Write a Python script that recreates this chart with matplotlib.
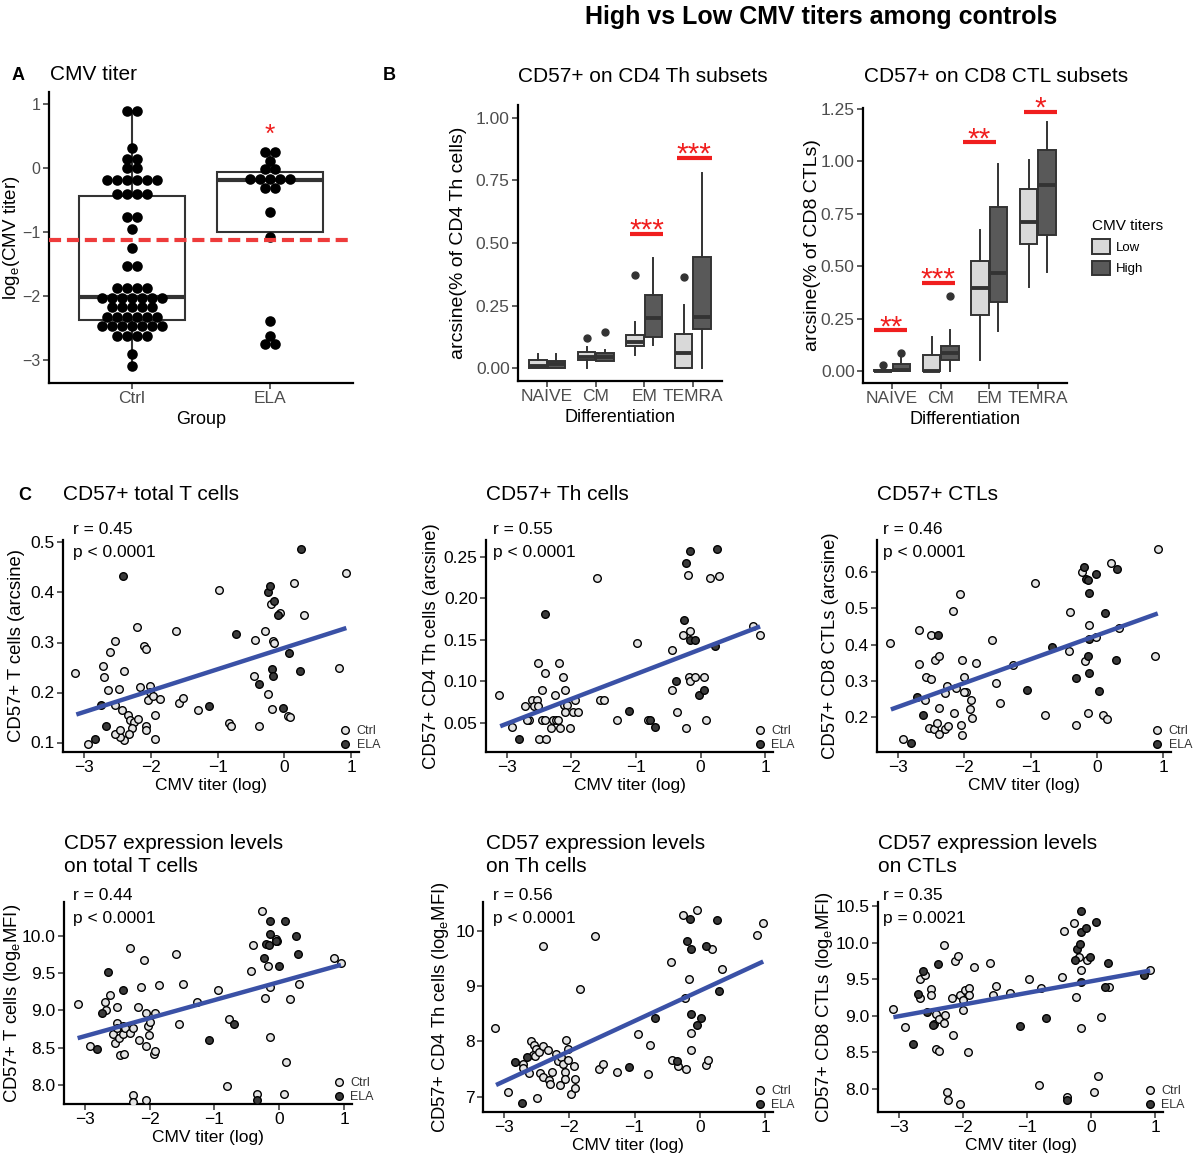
import numpy as np
import matplotlib.pyplot as plt
from matplotlib.patches import Patch
from matplotlib.lines import Line2D

plt.rcParams['font.family'] = ['Liberation Sans', 'DejaVu Sans']
plt.rcParams['mathtext.fontset'] = 'custom'
plt.rcParams['mathtext.rm'] = 'Liberation Sans'
plt.rcParams['axes.unicode_minus'] = True

W, H = 1197, 1156
RED = '#f01e1e'
GREY_TXT = '#4d4d4d'
LOW_FILL = '#d9d9d9'
HIGH_FILL = '#595959'
CTRL_FILL = '#e3e3e3'
ELA_FILL = '#3a3a3a'
LINE_BLUE = '#3a51a6'

# ---------------- panel A: CMV titer (dotplot + box) ----------------
groups = ['Ctrl', 'ELA']
ctrl_titer_levels = [0.88, 0.31, 0.13, 0.0, -0.19, -0.41, -0.77, -0.95, -1.26, -1.53,
                     -1.88, -2.03, -2.17, -2.33, -2.47, -2.63, -2.90, -3.09]
ctrl_titer_counts = [2, 1, 2, 2, 6, 4, 2, 1, 1, 2, 4, 7, 5, 6, 7, 4, 1, 1]
ela_titer_levels = [0.25, 0.11, -0.02, -0.18, -0.31, -0.69, -1.08, -2.39, -2.63, -2.75]
ela_titer_counts = [2, 1, 2, 5, 2, 1, 1, 1, 1, 2]
titer_q1 = [-2.37, -1.00]
titer_med = [-2.02, -0.19]
titer_q3 = [-0.44, -0.07]
titer_whislo = [-3.09, -1.00]
titer_whishi = [0.88, 0.25]
titer_cutoff = -1.13

# ---------------- panel B: subsets boxplots ----------------
subsets = ['NAIVE', 'CM', 'EM', 'TEMRA']
cd4_low = dict(q1=[0, 0.035, 0.088, 0], med=[0.01, 0.044, 0.106, 0.06],
               q3=[0.035, 0.066, 0.134, 0.139], whislo=[0, 0, 0.053, 0],
               whishi=[0.057, 0.084, 0.186, 0.252], fliers=[[], [0.12], [0.372], [0.365]])
cd4_high = dict(q1=[0, 0.03, 0.124, 0.159], med=[0.018, 0.045, 0.203, 0.206],
                q3=[0.03, 0.06, 0.292, 0.445], whislo=[0, 0.03, 0.093, 0],
                whishi=[0.057, 0.073, 0.442, 0.777], fliers=[[], [0.146], [], []])
cd8_low = dict(q1=[0, 0, 0.268, 0.605], med=[0, 0, 0.397, 0.71],
               q3=[0.005, 0.076, 0.524, 0.866], whislo=[0, 0, 0.054, 0.401],
               whishi=[0.005, 0.162, 0.672, 1.003], fliers=[[0.03], [], [], []])
cd8_high = dict(q1=[0, 0.054, 0.331, 0.648], med=[0.005, 0.088, 0.465, 0.884],
                q3=[0.032, 0.118, 0.783, 1.054], whislo=[0, 0, 0.191, 0.473],
                whishi=[0.08, 0.197, 0.987, 1.188], fliers=[[0.088], [0.358], [], []])
cd4_sig_idx = [2, 3]
cd4_sig_y = [0.537, 0.84]
cd4_sig_x0 = [-0.30, -0.33]
cd4_sig_x1 = [0.39, 0.39]
cd4_sig_lab = ['***', '***']
cd8_sig_idx = [0, 1, 2, 3]
cd8_sig_y = [0.194, 0.42, 1.09, 1.234]
cd8_sig_x0 = [-0.37, -0.39, -0.55, -0.28]
cd8_sig_x1 = [0.31, 0.29, 0.14, 0.39]
cd8_sig_lab = ['**', '***', '**', '*']

# ---------------- panel C/D: scatter data ----------------
c1_ctrl_x = [-3.14, -2.95, -2.72, -2.70, -2.61, -2.54, -2.64, -2.48, -2.41, -2.21,
             -2.11, -2.07, -2.16, -2.02, -2.01, -2.04, -1.97, -1.87, -1.94, -2.08,
             -2.08, -1.94, -2.54, -2.43, -2.34, -2.31, -2.26, -2.19, -2.28, -2.33,
             -2.41, -2.47, -2.54, -2.47, -1.63, -1.58, -1.52, -1.29, -0.98, -0.83,
             -0.80, -0.46, -0.44, -0.38, -0.29, -0.24, -0.20, -0.17, -0.16, -0.18,
             -0.07, 0.05, 0.09, 0.15, 0.29, 0.82, 0.93]
c1_ctrl_y = [0.240, 0.098, 0.253, 0.231, 0.281, 0.303, 0.206, 0.208, 0.243, 0.331,
             0.293, 0.287, 0.211, 0.213, 0.201, 0.185, 0.193, 0.188, 0.155, 0.133,
             0.126, 0.108, 0.175, 0.165, 0.155, 0.146, 0.141, 0.148, 0.130, 0.118,
             0.105, 0.111, 0.118, 0.125, 0.323, 0.180, 0.190, 0.165, 0.405, 0.139,
             0.133, 0.233, 0.306, 0.133, 0.323, 0.198, 0.377, 0.303, 0.300, 0.167,
             0.360, 0.154, 0.151, 0.420, 0.355, 0.250, 0.439]
c1_ela_x = [-2.42, -2.84, -2.67, -2.75, -0.73, -1.13, -0.38, -0.24, -0.22, -0.16,
            -0.19, -0.17, -0.09, 0.07, -0.02, 0.23, 0.25]
c1_ela_y = [0.433, 0.108, 0.133, 0.175, 0.317, 0.173, 0.217, 0.401, 0.413, 0.383,
            0.248, 0.233, 0.355, 0.279, 0.170, 0.243, 0.486]
c1_fit_x = [-3.12, 0.93]
c1_fit_y = [0.156, 0.329]

c2_ctrl_x = [-3.12, -2.92, -2.71, -2.61, -2.53, -2.58, -2.51, -2.65, -2.69, -2.52,
             -2.40, -2.46, -2.46, -2.40, -2.50, -2.39, -2.31, -2.26, -2.28, -2.23,
             -2.19, -2.21, -2.18, -2.13, -2.10, -2.11, -2.06, -2.10, -2.02, -1.97,
             -1.94, -1.89, -1.60, -1.56, -1.50, -1.29, -0.98, -0.82, -0.45, -0.44,
             -0.37, -0.28, -0.23, -0.20, -0.16, -0.18, -0.16, -0.08, 0.05, 0.09,
             0.14, 0.28, 0.81, 0.92]
c2_ctrl_y = [0.084, 0.045, 0.070, 0.077, 0.077, 0.070, 0.070, 0.054, 0.054, 0.122,
             0.110, 0.089, 0.054, 0.054, 0.031, 0.031, 0.044, 0.084, 0.054, 0.054,
             0.122, 0.054, 0.044, 0.105, 0.089, 0.071, 0.071, 0.063, 0.044, 0.063,
             0.077, 0.063, 0.224, 0.077, 0.077, 0.054, 0.146, 0.054, 0.138, 0.089,
             0.063, 0.156, 0.044, 0.228, 0.160, 0.105, 0.100, 0.105, 0.105, 0.054,
             0.224, 0.227, 0.166, 0.156]
c2_ela_x = [-2.81, -2.41, -1.11, -0.78, -0.71, -0.38, -0.25, -0.22, -0.16, -0.17,
            -0.08, -0.02, 0.06, 0.23, 0.25]
c2_ela_y = [0.031, 0.181, 0.064, 0.054, 0.045, 0.100, 0.174, 0.242, 0.257, 0.150,
            0.150, 0.084, 0.089, 0.142, 0.259]
c2_fit_x = [-3.10, 0.92]
c2_fit_y = [0.046, 0.166]

c3_ctrl_x = [-3.12, -2.92, -2.69, -2.68, -2.58, -2.50, -2.60, -2.51, -2.45, -2.38,
             -2.39, -2.53, -2.46, -2.41, -2.38, -2.30, -2.25, -2.27, -2.30, -2.16,
             -2.17, -2.07, -2.12, -2.03, -2.05, -2.04, -2.01, -1.98, -2.01, -1.90,
             -1.92, -1.89, -1.83, -1.58, -1.53, -1.47, -1.26, -0.94, -0.78, -0.40,
             -0.42, -0.32, -0.23, -0.18, -0.12, -0.13, -0.02, 0.10, 0.15, 0.21,
             0.34, 0.88, 0.93]
c3_ctrl_y = [0.404, 0.140, 0.440, 0.346, 0.310, 0.305, 0.248, 0.428, 0.358, 0.369,
             0.227, 0.170, 0.167, 0.186, 0.154, 0.167, 0.176, 0.287, 0.268, 0.211,
             0.493, 0.539, 0.280, 0.358, 0.179, 0.151, 0.312, 0.269, 0.269, 0.248,
             0.223, 0.199, 0.349, 0.412, 0.295, 0.239, 0.344, 0.571, 0.208, 0.489,
             0.384, 0.179, 0.599, 0.356, 0.454, 0.211, 0.422, 0.206, 0.195, 0.626,
             0.445, 0.370, 0.663]
c3_ela_x = [-2.81, -2.72, -2.63, -2.40, -1.06, -0.67, -0.32, -0.20, -0.16, -0.14,
            -0.12, -0.14, -0.12, -0.12, -0.02, 0.04, 0.13, 0.29, 0.31]
c3_ela_y = [0.130, 0.255, 0.206, 0.427, 0.275, 0.393, 0.309, 0.615, 0.581, 0.578,
            0.543, 0.370, 0.321, 0.415, 0.594, 0.272, 0.488, 0.358, 0.607]
c3_fit_x = [-3.11, 0.92]
c3_fit_y = [0.222, 0.486]

d1_ctrl_x = [-3.11, -2.92, -2.69, -2.68, -2.61, -2.51, -2.51, -2.57, -2.53, -2.47,
             -2.50, -2.41, -2.41, -2.38, -2.31, -2.46, -2.39, -2.30, -2.26, -2.25,
             -2.25, -2.18, -2.17, -2.14, -2.09, -2.05, -2.05, -2.06, -2.02, -2.01,
             -1.99, -1.91, -1.94, -1.91, -1.85, -1.60, -1.54, -1.49, -1.27, -0.95,
             -0.80, -0.78, -0.44, -0.41, -0.34, -0.26, -0.22, -0.18, -0.15, -0.15,
             -0.05, -0.04, 0.07, 0.11, 0.17, 0.31, 0.84, 0.95]
d1_ctrl_y = [9.09, 8.52, 9.12, 9.00, 9.21, 9.05, 8.83, 8.68, 8.56, 8.63,
             8.76, 8.79, 8.68, 8.76, 9.84, 8.40, 8.42, 8.70, 8.76, 7.87,
             7.78, 9.04, 8.61, 9.32, 9.68, 8.96, 7.80, 8.52, 8.79, 8.67,
             8.85, 8.97, 8.42, 8.46, 9.34, 9.75, 8.82, 9.35, 9.12, 9.27,
             7.99, 8.88, 9.53, 9.88, 7.89, 10.33, 9.17, 9.60, 9.32, 8.65,
             9.96, 9.93, 7.89, 8.31, 9.16, 9.36, 9.70, 9.64]
d1_ela_x = [-2.81, -2.73, -2.64, -2.41, -1.09, -0.70, -0.34, -0.23, -0.20, -0.16,
            -0.15, -0.15, 0.00, 0.09, 0.25, 0.28, -0.05]
d1_ela_y = [8.49, 8.96, 9.52, 9.27, 8.61, 8.82, 7.80, 9.70, 9.89, 9.87,
            10.19, 10.02, 9.60, 10.20, 10.00, 9.76, 9.93]
d1_fit_x = [-3.11, 0.95]
d1_fit_y = [8.63, 9.61]

d2_ctrl_x = [-3.14, -2.94, -2.59, -2.54, -2.51, -2.56, -2.71, -2.70, -2.62, -2.52,
             -2.46, -2.40, -2.40, -2.45, -2.40, -2.50, -2.32, -2.31, -2.29, -2.26,
             -2.20, -2.17, -2.12, -2.14, -2.09, -2.06, -2.05, -2.02, -2.02, -2.06,
             -1.98, -1.93, -1.91, -1.91, -1.84, -1.60, -1.55, -1.49, -1.27, -0.95,
             -0.77, -0.79, -0.44, -0.42, -0.34, -0.26, -0.21, -0.17, -0.22, -0.14,
             -0.14, -0.04, 0.09, 0.13, 0.19, 0.34, 0.87, 0.97]
d2_ctrl_y = [8.25, 7.09, 8.01, 7.94, 7.87, 7.76, 7.59, 7.52, 7.42, 7.73,
             7.80, 7.91, 9.74, 7.42, 7.36, 6.98, 7.85, 7.30, 7.22, 7.44,
             7.78, 7.65, 7.71, 7.21, 7.59, 7.45, 8.03, 7.87, 7.67, 7.32,
             7.04, 7.56, 7.32, 7.15, 8.95, 9.91, 7.50, 7.59, 7.45, 8.14,
             7.93, 7.41, 9.45, 7.67, 7.56, 10.30, 7.50, 9.13, 8.79, 8.16,
             7.84, 10.38, 7.58, 7.67, 9.67, 9.32, 9.94, 10.15]
d2_ela_x = [-2.83, -2.65, -2.73, -1.08, -0.69, -0.35, -0.19, -0.15, -0.14, -0.14,
            -0.04, 0.02, 0.10, 0.26, 0.29]
d2_ela_y = [7.62, 7.71, 6.88, 7.53, 8.42, 7.64, 9.83, 10.22, 9.68, 8.50,
            8.30, 8.42, 9.73, 10.21, 8.91]
d2_fit_x = [-3.12, 0.97]
d2_fit_y = [7.21, 9.45]

d3_ctrl_x = [-3.09, -2.90, -2.67, -2.66, -2.59, -2.49, -2.50, -2.41, -2.45, -2.37,
             -2.27, -2.29, -2.41, -2.37, -2.29, -2.25, -2.23, -2.17, -2.15, -2.12,
             -2.07, -2.04, -2.04, -2.00, -2.00, -1.97, -1.90, -1.90, -1.92, -1.83,
             -1.58, -1.53, -1.48, -1.26, -0.97, -0.78, -0.81, -0.45, -0.43, -0.37,
             -0.27, -0.23, -0.16, -0.19, -0.15, -0.07, 0.05, 0.10, 0.15, 0.28,
             0.92]
d3_ctrl_y = [9.09, 8.84, 9.24, 9.51, 9.56, 9.37, 9.28, 9.02, 8.89, 8.96,
             9.01, 8.90, 8.55, 8.51, 9.97, 7.96, 7.85, 9.25, 8.73, 9.75,
             9.82, 7.79, 9.28, 9.22, 9.08, 9.35, 9.38, 9.29, 8.50, 9.67,
             9.73, 9.28, 9.41, 9.31, 9.51, 9.38, 8.05, 9.53, 10.16, 7.89,
             10.27, 9.26, 9.63, 9.81, 8.83, 9.77, 7.95, 8.18, 8.98, 9.39,
             9.63]
d3_ela_x = [-2.78, -2.70, -2.62, -2.56, -2.47, -2.39, -1.10, -0.70, -0.37, -0.25,
            -0.22, -0.18, -0.15, -0.15, -0.15, -0.08, -0.02, 0.07, 0.26, 0.22, 0.82]
d3_ela_y = [8.61, 9.30, 9.61, 9.05, 8.88, 9.71, 8.86, 8.97, 7.84, 9.76,
            9.91, 9.98, 10.15, 10.44, 9.46, 10.21, 9.80, 10.29, 9.73, 9.39, 9.56]
d3_fit_x = [-3.08, 0.92]
d3_fit_y = [8.98, 9.62]


def rect(l, r, t, b):
    return [l / W, 1 - b / H, (r - l) / W, (b - t) / H]


def ftext(x, y, s, **kw):
    fig.text(x / W, 1 - y / H, s, **kw)


def place_ylabel(ax, r, x_center_px):
    # label anchor is its right edge (rotated text bottom)
    left_px = r[0] * W
    width_px = r[2] * W
    ax.yaxis.set_label_coords((x_center_px + 9 - left_px) / width_px, 0.5)


def style_axes(ax, tick_color, size):
    for side in ['top', 'right']:
        ax.spines[side].set_visible(False)
    for side in ['left', 'bottom']:
        ax.spines[side].set_linewidth(1.6)
        ax.spines[side].set_color('black')
    ax.tick_params(length=4, width=1.1, color='#333333', labelsize=size,
                   labelcolor=tick_color, pad=2)


def box_stats(d):
    out = []
    for i in range(len(d['med'])):
        out.append(dict(q1=d['q1'][i], med=d['med'][i], q3=d['q3'][i],
                        whislo=d['whislo'][i], whishi=d['whishi'][i],
                        fliers=d['fliers'][i] if 'fliers' in d else []))
    return out


fig = plt.figure(figsize=(W / 100, H / 100), dpi=100)

# ---- A ----
rA = rect(49, 353, 92, 383)
axA = fig.add_axes(rA)
style_axes(axA, GREY_TXT, 11.5)
axA.tick_params(axis='x', labelsize=12.5)
statsA = box_stats(dict(q1=titer_q1, med=titer_med, q3=titer_q3,
                        whislo=titer_whislo, whishi=titer_whishi))
axA.bxp(statsA, positions=[1, 2], widths=0.77, patch_artist=True, showcaps=False,
        showfliers=False,
        boxprops=dict(facecolor='white', edgecolor='#333333', linewidth=1.5),
        medianprops=dict(color='#333333', linewidth=3),
        whiskerprops=dict(color='#333333', linewidth=1.5))
dx = 0.072
for pos, levels, counts in [(1, ctrl_titer_levels, ctrl_titer_counts),
                            (2, ela_titer_levels, ela_titer_counts)]:
    xs, ys = [], []
    for v, n in zip(levels, counts):
        offs = (np.arange(n) - (n - 1) / 2) * dx
        xs.extend(pos + offs)
        ys.extend([v] * n)
    axA.scatter(xs, ys, s=58, color='black', zorder=3, linewidths=0)
axA.axhline(titer_cutoff, color='#ee3b3b', lw=3, ls=(0, (2.9, 1.4)), zorder=4)
axA.text(2, 0.40, '*', color=RED, ha='center', va='baseline', fontsize=19)
axA.set_xlim(0.4, 2.6)
axA.set_ylim(-3.36, 1.18)
axA.set_yticks([-3, -2, -1, 0, 1])
axA.set_xticks([1, 2])
axA.set_xticklabels(groups)
axA.set_xlabel('Group', fontsize=13, labelpad=3)
axA.set_ylabel(r'log$_\mathrm{e}$(CMV titer)', fontsize=13.5)
place_ylabel(axA, rA, 13)

# ---- B ----
def draw_subset_panel(ax, low, high, sig_idx, sig_y, sig_x0, sig_x1, sig_lab):
    style_axes(ax, GREY_TXT, 12.5)
    pos = np.arange(1, len(subsets) + 1)
    for d, off, fc in [(low, -0.1875, LOW_FILL), (high, 0.1875, HIGH_FILL)]:
        ax.bxp(box_stats(d), positions=pos + off, widths=0.36, patch_artist=True,
               showcaps=False,
               boxprops=dict(facecolor=fc, edgecolor='#333333', linewidth=1.4),
               medianprops=dict(color='#333333', linewidth=2.8),
               whiskerprops=dict(color='#333333', linewidth=1.4),
               flierprops=dict(marker='o', markerfacecolor='#333333',
                               markeredgecolor='#333333', markersize=5))
    for i, y, a, b, lab in zip(sig_idx, sig_y, sig_x0, sig_x1, sig_lab):
        xc = pos[i]
        ax.plot([xc + a, xc + b], [y, y], color=RED, lw=3, solid_capstyle='butt',
                clip_on=False)
        ax.annotate(lab, ((xc + a + xc + b) / 2, y), xytext=(0, -3.5),
                    textcoords='offset points', ha='center', va='baseline',
                    color=RED, fontsize=21.5, annotation_clip=False)
    ax.set_xticks(pos)
    ax.set_xticklabels(subsets)
    ax.set_xlim(0.4, 4.6)
    ax.set_xlabel('Differentiation', fontsize=13, labelpad=3)


rB1 = rect(518, 722, 105, 381)
axB1 = fig.add_axes(rB1)
draw_subset_panel(axB1, cd4_low, cd4_high, cd4_sig_idx, cd4_sig_y, cd4_sig_x0,
                  cd4_sig_x1, cd4_sig_lab)
axB1.set_ylim(-0.05, 1.05)
axB1.set_yticks([0, 0.25, 0.5, 0.75, 1.0])
axB1.set_yticklabels(['0.00', '0.25', '0.50', '0.75', '1.00'])
axB1.set_ylabel('arcsine(% of CD4 Th cells)', fontsize=14)
place_ylabel(axB1, rB1, 458)

rB2 = rect(863, 1067, 108, 383)
axB2 = fig.add_axes(rB2)
draw_subset_panel(axB2, cd8_low, cd8_high, cd8_sig_idx, cd8_sig_y, cd8_sig_x0,
                  cd8_sig_x1, cd8_sig_lab)
axB2.set_ylim(-0.057, 1.253)
axB2.set_yticks([0, 0.25, 0.5, 0.75, 1.0, 1.25])
axB2.set_yticklabels(['0.00', '0.25', '0.50', '0.75', '1.00', '1.25'])
axB2.set_ylabel('arcsine(% of CD8 CTLs)', fontsize=14)
place_ylabel(axB2, rB2, 812)

fig.legend(handles=[Patch(facecolor=LOW_FILL, edgecolor='#333333', linewidth=1.4),
                    Patch(facecolor=HIGH_FILL, edgecolor='#333333', linewidth=1.4)],
           labels=['Low', 'High'], title='CMV titers', loc='upper left',
           bbox_to_anchor=(1080 / W, 1 - 207 / H), frameon=False, fontsize=9.5,
           title_fontsize=11, alignment='left', handlelength=1.4, handleheight=1.3,
           handletextpad=0.4, labelspacing=0.5)

# ---- C / D scatter panels ----
scatter_panels = [
    (rect(63, 359, 540, 752), c1_ctrl_x, c1_ctrl_y, c1_ela_x, c1_ela_y, c1_fit_x, c1_fit_y,
     (0.081, 0.505), [0.1, 0.2, 0.3, 0.4, 0.5], '{:.1f}', 'CD57+ T cells (arcsine)',
     'r = 0.45', 'p < 0.0001', (73, 530), 16),
    (rect(486, 773, 540, 752), c2_ctrl_x, c2_ctrl_y, c2_ela_x, c2_ela_y, c2_fit_x, c2_fit_y,
     (0.015, 0.27), [0.05, 0.10, 0.15, 0.20, 0.25], '{:.2f}', 'CD57+ CD4 Th cells (arcsine)',
     'r = 0.55', 'p < 0.0001', (493, 530), 431),
    (rect(877, 1171, 540, 752), c3_ctrl_x, c3_ctrl_y, c3_ela_x, c3_ela_y, c3_fit_x, c3_fit_y,
     (0.105, 0.688), [0.2, 0.3, 0.4, 0.5, 0.6], '{:.1f}', 'CD57+ CD8 CTLs (arcsine)',
     'r = 0.46', 'p < 0.0001', (883, 530), 830),
    (rect(64, 352, 902, 1104), d1_ctrl_x, d1_ctrl_y, d1_ela_x, d1_ela_y, d1_fit_x, d1_fit_y,
     (7.75, 10.45), [8.0, 8.5, 9.0, 9.5, 10.0], '{:.1f}',
     r'CD57+ T cells (log$_\mathrm{e}$MFI)', 'r = 0.44', 'p < 0.0001', (73, 896), 14),
    (rect(483, 773, 902, 1112), d2_ctrl_x, d2_ctrl_y, d2_ela_x, d2_ela_y, d2_fit_x, d2_fit_y,
     (6.72, 10.53), [7, 8, 9, 10], '{:.0f}',
     r'CD57+ CD4 Th cells (log$_\mathrm{e}$MFI)', 'r = 0.56', 'p < 0.0001', (493, 896), 442),
    (rect(878, 1163, 902, 1112), d3_ctrl_x, d3_ctrl_y, d3_ela_x, d3_ela_y, d3_fit_x, d3_fit_y,
     (7.68, 10.56), [8.0, 8.5, 9.0, 9.5, 10.0, 10.5], '{:.1f}',
     r'CD57+ CD8 CTLs (log$_\mathrm{e}$MFI)', 'r = 0.35', 'p = 0.0021', (883, 896), 826),
]

for (r, cx, cy, ex, ey, fx, fy, ylim, yticks, fmt, ylab, rtxt, ptxt, txy, ylx) in scatter_panels:
    ax = fig.add_axes(r)
    style_axes(ax, 'black', 12.5)
    ax.scatter(cx, cy, s=30, facecolor=CTRL_FILL, edgecolor='black', linewidths=1.0, zorder=3)
    ax.scatter(ex, ey, s=30, facecolor=ELA_FILL, edgecolor='black', linewidths=1.0, zorder=3)
    ax.plot(fx, fy, color=LINE_BLUE, lw=3.2, zorder=4, solid_capstyle='butt')
    ax.set_xlim(-3.32, 1.12)
    ax.set_ylim(*ylim)
    ax.set_xticks([-3, -2, -1, 0, 1])
    ax.set_yticks(yticks)
    ax.set_yticklabels([fmt.format(v) for v in yticks])
    ax.set_xlabel('CMV titer (log)', fontsize=12.5, labelpad=2)
    ax.set_ylabel(ylab, fontsize=13.3)
    place_ylabel(ax, r, ylx)
    ftext(txy[0], txy[1], rtxt, fontsize=12.5, va='center', ha='left')
    ftext(txy[0], txy[1] + 23, ptxt, fontsize=12.5, va='center', ha='left')
    h1 = Line2D([], [], marker='o', ls='', markerfacecolor=CTRL_FILL,
                markeredgecolor='black', markersize=5.5)
    h2 = Line2D([], [], marker='o', ls='', markerfacecolor=ELA_FILL,
                markeredgecolor='black', markersize=5.5)
    ax.legend([h1, h2], ['Ctrl', 'ELA'], loc='lower left', bbox_to_anchor=(0.92, -0.02),
              frameon=False, fontsize=9, handlelength=0.8, handletextpad=0.5,
              labelspacing=0.15, borderaxespad=0, labelcolor='#333333')

# ---- titles ----
ftext(821, 17, 'High vs Low CMV titers among controls', fontsize=18, weight='bold',
      ha='center', va='center')
ftext(12, 75, 'A', fontsize=13, weight='bold', va='center')
ftext(383, 76, 'B', fontsize=13, weight='bold', va='center')
ftext(18, 495, 'C', fontsize=13, weight='bold', va='center')
ftext(50, 75, 'CMV titer', fontsize=15, va='center')
ftext(518, 76, 'CD57+ on CD4 Th subsets', fontsize=15, va='center')
ftext(864, 76, 'CD57+ on CD8 CTL subsets', fontsize=15, va='center')
ftext(63, 495, 'CD57+ total T cells', fontsize=15, va='center')
ftext(486, 495, 'CD57+ Th cells', fontsize=15, va='center')
ftext(877, 495, 'CD57+ CTLs', fontsize=15, va='center')
ftext(64, 855, 'CD57 expression levels\non total T cells', fontsize=15, va='center',
      linespacing=1.25)
ftext(486, 855, 'CD57 expression levels\non Th cells', fontsize=15, va='center',
      linespacing=1.25)
ftext(878, 855, 'CD57 expression levels\non CTLs', fontsize=15, va='center',
      linespacing=1.25)

fig.savefig('out.png', dpi=100)
